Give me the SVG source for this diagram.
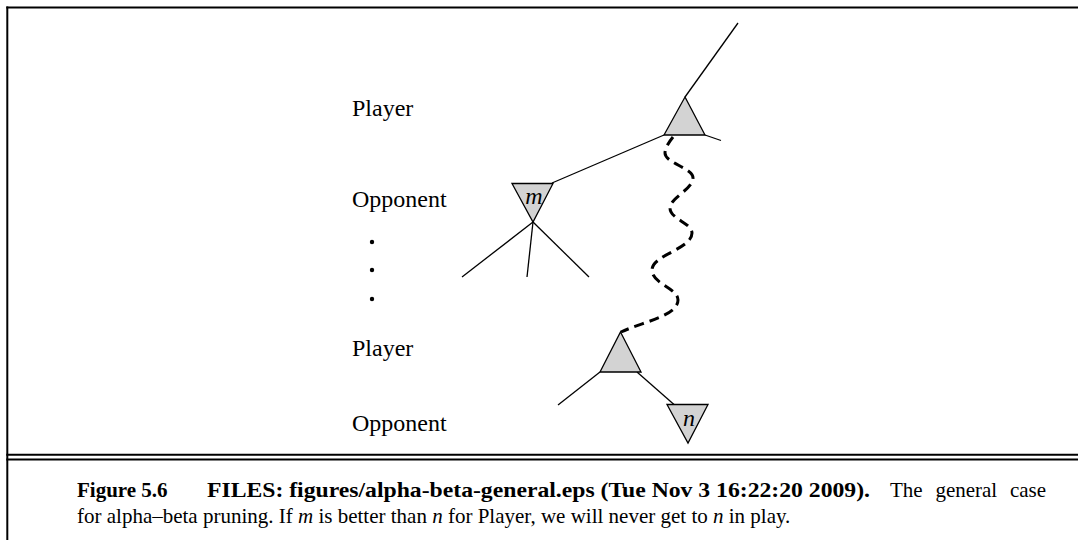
<svg xmlns="http://www.w3.org/2000/svg" width="1078" height="540" viewBox="0 0 1078 540">
<style>
.frame{stroke:#000;stroke-width:2;fill:none}
.edge{stroke:#000;stroke-width:1.3;fill:none}
.wave{stroke:#000;stroke-width:3;fill:none;stroke-dasharray:10 6}
.tri{fill:#d3d3d3;stroke:#000;stroke-width:1.3;stroke-linejoin:miter}
.lbl{font-family:"Liberation Serif","Times New Roman",serif;font-size:24px;fill:#000}
.var{font-family:"Liberation Serif","Times New Roman",serif;font-size:24px;font-style:italic;fill:#000;text-anchor:middle}
.cap{font-family:"Liberation Serif","Times New Roman",serif;font-size:21px;fill:#000}
.b{font-weight:bold}
.i{font-style:italic}
</style>
<rect width="1078" height="540" fill="#fff"/>
<g id="frame">
<line class="frame" x1="6.3" y1="7.5" x2="1078" y2="7.5"/>
<line class="frame" x1="7.3" y1="6.5" x2="7.3" y2="540"/>
<line class="frame" x1="6.3" y1="454.7" x2="1078" y2="454.7"/>
<line class="frame" x1="6.3" y1="459.5" x2="1078" y2="459.5"/>
</g>
<g id="level-labels">
<text class="lbl" x="352" y="116">Player</text>
<text class="lbl" x="352" y="207">Opponent</text>
<circle cx="372" cy="242" r="2.2"/>
<circle cx="372" cy="270" r="2.2"/>
<circle cx="372" cy="299" r="2.2"/>
<text class="lbl" x="352" y="356">Player</text>
<text class="lbl" x="352" y="431">Opponent</text>
</g>
<g id="connectors">
<line class="edge" x1="685" y1="97" x2="738" y2="23"/>
<line class="edge" x1="705" y1="135" x2="721" y2="140.5"/>
<line class="edge" x1="664" y1="135" x2="552" y2="183"/>
<line class="edge" x1="533" y1="222" x2="462" y2="277"/>
<line class="edge" x1="533" y1="222" x2="527" y2="277"/>
<line class="edge" x1="533" y1="222" x2="589" y2="277"/>
<line class="edge" x1="600" y1="372" x2="558" y2="405"/>
<line class="edge" x1="637" y1="372" x2="674" y2="404.5"/>
<path class="wave" d="M673,137 C669,142 665,148 665,153 C665,163 693,168 693,178 C693,189 670,198 670,208 C670,219 692,223 692,233 C692,249 652,255 652,270 C652,284 678,288 678,300 C678,316 642,322 621,332"/>
</g>
<g id="node-root">
<polygon class="tri" points="685,97 705,135 664,135"/>
</g>
<g id="node-m">
<polygon class="tri" points="512,183.5 553,183.5 533,222"/>
<text class="var" x="534" y="204">m</text>
</g>
<g id="node-lower-player">
<polygon class="tri" points="620.5,332 641,372 600,372"/>
</g>
<g id="node-n">
<polygon class="tri" points="667,404.5 708,404.5 688,443"/>
<text class="var" x="689" y="426">n</text>
</g>
<g id="caption">
<text class="cap" y="497"><tspan class="b" x="77">Figure 5.6</tspan><tspan class="b" x="207" textLength="663" lengthAdjust="spacingAndGlyphs">FILES: figures/alpha-beta-general.eps (Tue Nov 3 16:22:20 2009).</tspan><tspan x="890" word-spacing="7.5">The general case</tspan></text>
<text class="cap" x="77" y="523">for alpha–beta pruning. If <tspan class="i">m</tspan> is better than <tspan class="i">n</tspan> for Player, we will never get to <tspan class="i">n</tspan> in play.</text>
</g>
</svg>
